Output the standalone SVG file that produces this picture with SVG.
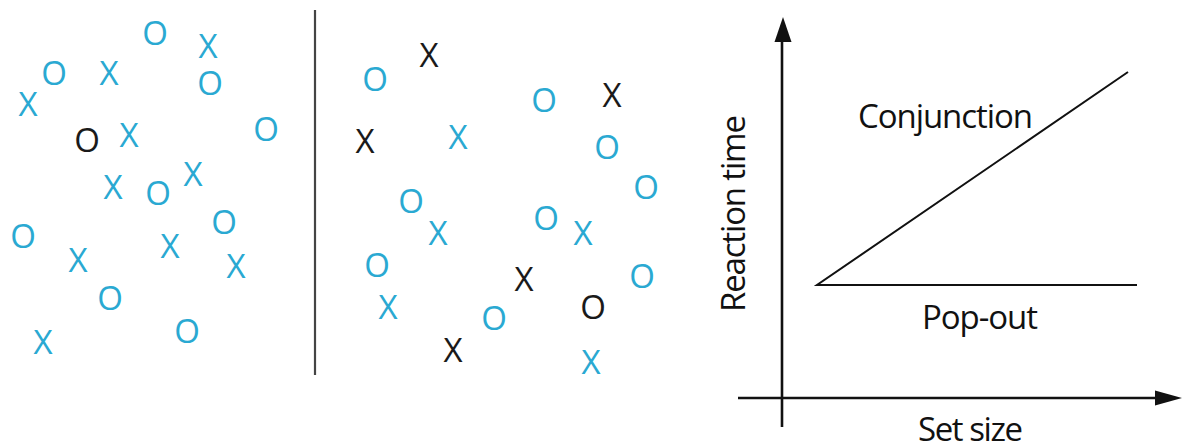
<svg xmlns="http://www.w3.org/2000/svg" width="1187" height="445" viewBox="0 0 1187 445">
<style>
.s{font-family:"Open Sans","Liberation Sans",sans-serif;font-size:33px;text-anchor:middle;}
.c{fill:#2AA9D2;}
.k{fill:#1a1a1a;}
.lbl{font-family:"Open Sans","Liberation Sans",sans-serif;font-size:33px;fill:#111;}
.ax{stroke:#111;stroke-width:2.6;fill:none;}
.ln{stroke:#111;stroke-width:2;fill:none;}
</style>
<rect width="1187" height="445" fill="#fff"/>
<g id="panel-popout">
<text class="s c" x="155" y="45">O</text>
<text class="s c" x="208" y="58">X</text>
<text class="s c" x="54" y="85">O</text>
<text class="s c" x="109" y="85">X</text>
<text class="s c" x="210" y="95">O</text>
<text class="s c" x="28" y="116">X</text>
<text class="s k" x="87" y="152">O</text>
<text class="s c" x="129" y="147">X</text>
<text class="s c" x="266" y="141">O</text>
<text class="s c" x="113" y="199">X</text>
<text class="s c" x="158" y="205">O</text>
<text class="s c" x="193" y="186">X</text>
<text class="s c" x="23" y="248">O</text>
<text class="s c" x="78" y="272">X</text>
<text class="s c" x="170" y="258">X</text>
<text class="s c" x="224" y="234">O</text>
<text class="s c" x="236" y="278">X</text>
<text class="s c" x="110" y="310">O</text>
<text class="s c" x="187" y="343">O</text>
<text class="s c" x="43" y="354">X</text>
</g>
<line id="divider" x1="315" y1="10" x2="315" y2="375" stroke="#444" stroke-width="2.2"/>
<g id="panel-conjunction">
<text class="s c" x="375" y="91">O</text>
<text class="s k" x="429" y="67">X</text>
<text class="s c" x="544" y="112">O</text>
<text class="s k" x="612" y="107">X</text>
<text class="s k" x="365" y="153">X</text>
<text class="s c" x="458" y="149">X</text>
<text class="s c" x="607" y="159">O</text>
<text class="s c" x="646" y="199">O</text>
<text class="s c" x="411" y="213">O</text>
<text class="s c" x="438" y="245">X</text>
<text class="s c" x="546" y="230">O</text>
<text class="s c" x="583" y="245">X</text>
<text class="s c" x="377" y="277">O</text>
<text class="s k" x="524" y="291">X</text>
<text class="s c" x="642" y="288">O</text>
<text class="s c" x="388" y="319">X</text>
<text class="s c" x="494" y="330">O</text>
<text class="s k" x="593" y="319">O</text>
<text class="s k" x="453" y="362">X</text>
<text class="s c" x="591" y="374">X</text>
</g>
<g id="graph">
<g id="axes">
<line class="ax" x1="782" y1="427" x2="782" y2="38"/>
<polygon points="783,17 774.5,42 791.5,42" fill="#111"/>
<line class="ax" x1="738" y1="398" x2="1160" y2="398"/>
<polygon points="1182,398 1155,390.5 1155,405.5" fill="#111"/>
</g>
<g id="curves">
<polyline class="ln" points="1128,72 817,285 1137,285"/>
</g>
<text class="lbl" x="858" y="128" textLength="175">Conjunction</text>
<text class="lbl" x="922" y="329" textLength="116">Pop-out</text>
<text class="lbl" x="918" y="441" textLength="105">Set size</text>
<text class="lbl" x="745" y="213.5" text-anchor="middle" textLength="197" transform="rotate(-90 745 213.5)">Reaction time</text>
</g>
</svg>
